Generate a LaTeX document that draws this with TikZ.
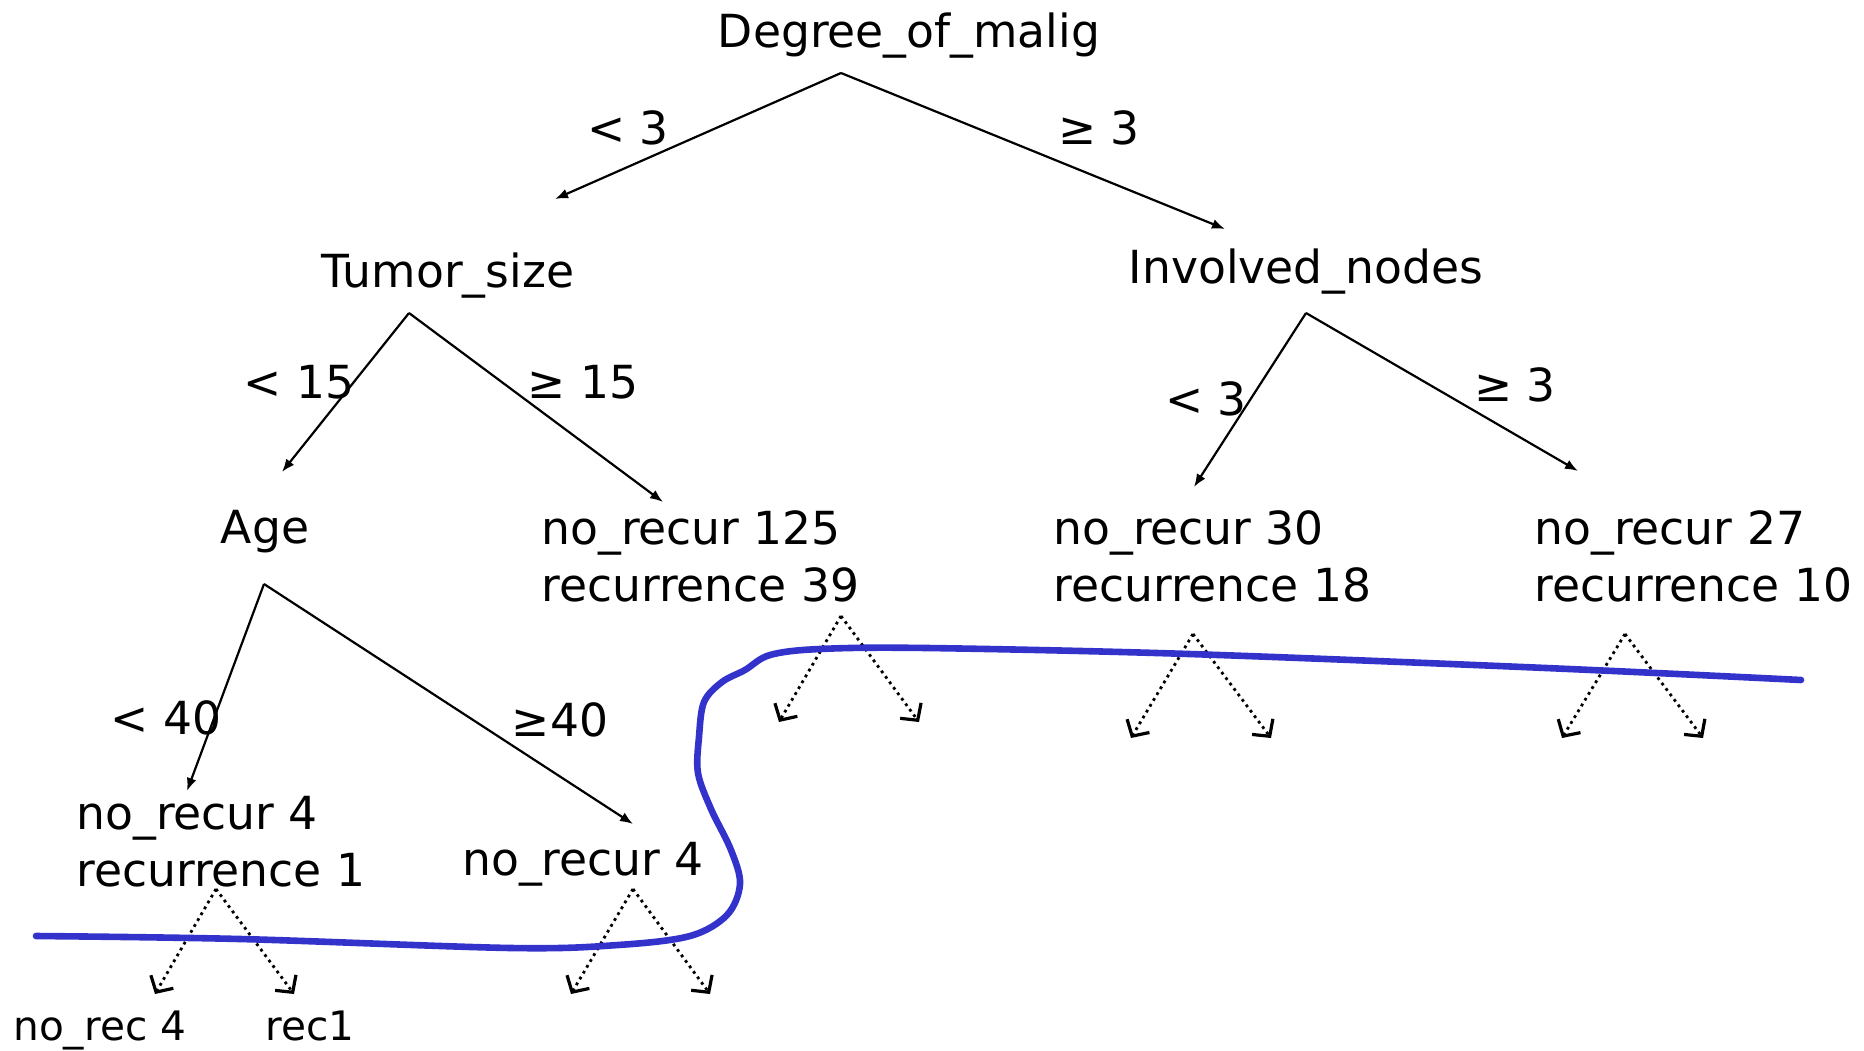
\documentclass[tikz,border=0pt]{standalone}
\usepackage{fontspec}
\setmainfont{DejaVu Sans}
\usetikzlibrary{arrows.meta}
\definecolor{cutblue}{RGB}{51,51,204}
\begin{document}
\begin{tikzpicture}[x=0.5pt,y=-0.5pt,
  txt/.style={inner sep=0pt, font=\fontsize{22.8pt}{28.5pt}\selectfont},
  attr/.style={txt, anchor=base},
  leaf/.style={txt, align=left, anchor=north west},
  cond/.style={txt, anchor=base},
  small/.style={inner sep=0pt, font=\fontsize{20.3pt}{24pt}\selectfont, anchor=base west},
  branch/.style={line width=1.1pt, -{Latex[length=6.5pt,width=5pt]}},
  fan/.style={line width=1.4pt, dash pattern=on 1.4pt off 2pt,
    -{Straight Barb[length=6pt,width=13pt,line width=1.6pt]}},
  cut/.style={line width=3.3pt, draw=cutblue, line cap=round}
]
\useasboundingbox (0,0) rectangle (1864,1050);
\fill[white] (0,0) rectangle (1864,1050);

% attribute nodes
\node[attr] (root) at (909,47) {Degree\_of\_malig};
\node[attr] (tumor) at (448,287) {Tumor\_size};
\node[attr] (inv) at (1306,283) {Involved\_nodes};
\node[attr] (age) at (265,543) {Age};

% leaves
\node[leaf] (leafA) at (541,510) {no\_recur 125\\recurrence 39};
\node[leaf] (leafB) at (1053,510) {no\_recur 30\\recurrence 18};
\node[leaf] (leafC) at (1534,510) {no\_recur 27\\recurrence 10};
\node[leaf] (leafD) at (76,796) {no\_recur 4\\recurrence 1};
\node[attr] (leafE) at (583,875) {no\_recur 4};
\node[small] (norec) at (13,1040) {no\_rec 4};
\node[small] (rec) at (265,1040) {rec1};

% branch points
\coordinate (rootS) at (841,73);
\coordinate (tumorN) at (555,199);
\coordinate (invN) at (1225,229);
\coordinate (tumorS) at (409,313);
\coordinate (ageN) at (282,472);
\coordinate (leafAN) at (663,502);
\coordinate (invS) at (1306,313);
\coordinate (leafBN) at (1194,487);
\coordinate (leafCN) at (1578,471);
\coordinate (ageS) at (264,584);
\coordinate (leafDN) at (187,791);
\coordinate (leafEN) at (633,824);

\draw[branch] (rootS) -- (tumorN);
\draw[branch] (rootS) -- (invN);
\draw[branch] (tumorS) -- (ageN);
\draw[branch] (tumorS) -- (leafAN);
\draw[branch] (invS) -- (leafBN);
\draw[branch] (invS) -- (leafCN);
\draw[branch] (ageS) -- (leafDN);
\draw[branch] (ageS) -- (leafEN);

% branch labels
\node[cond] (c1) at (628,144) {< 3};
\node[cond] (c2) at (1099,144) {≥ 3};
\node[cond] (c3) at (299,398) {< 15};
\node[cond] (c4) at (583,398) {≥ 15};
\node[cond] (c5) at (1206,415) {< 3};
\node[cond] (c6) at (1515,401) {≥ 3};
\node[cond] (c7) at (166,734) {< 40};
\node[cond] (c8) at (560,736) {≥40};

% dotted fans
\coordinate (fA) at (841,616); \coordinate (fA1) at (779,722); \coordinate (fA2) at (919,722);
\coordinate (fB) at (1193,634); \coordinate (fB1) at (1131,738); \coordinate (fB2) at (1271,738);
\coordinate (fC) at (1625,634); \coordinate (fC1) at (1562,738); \coordinate (fC2) at (1703,738);
\coordinate (fD) at (216,889); \coordinate (fD1) at (155,994); \coordinate (fD2) at (294,994);
\coordinate (fE) at (633,889); \coordinate (fE1) at (571,994); \coordinate (fE2) at (710,994);
\foreach \f in {fA,fB,fC,fD,fE}{
  \draw[fan] (\f) -- (\f1);
  \draw[fan] (\f) -- (\f2);
}

% pruning cut line
\draw[cut] plot[smooth, tension=0.55] coordinates {
 (36,936) (240,939) (511,948) (618,945) (690,936) (727,915) (740,884)
 (731,850) (711,809) (698,773) (699,737) (704,702) (722,682) (745,670)
 (770,655) (820,649) (927,648) (1189,654) (1546,668) (1801,680)};
\end{tikzpicture}
\end{document}
